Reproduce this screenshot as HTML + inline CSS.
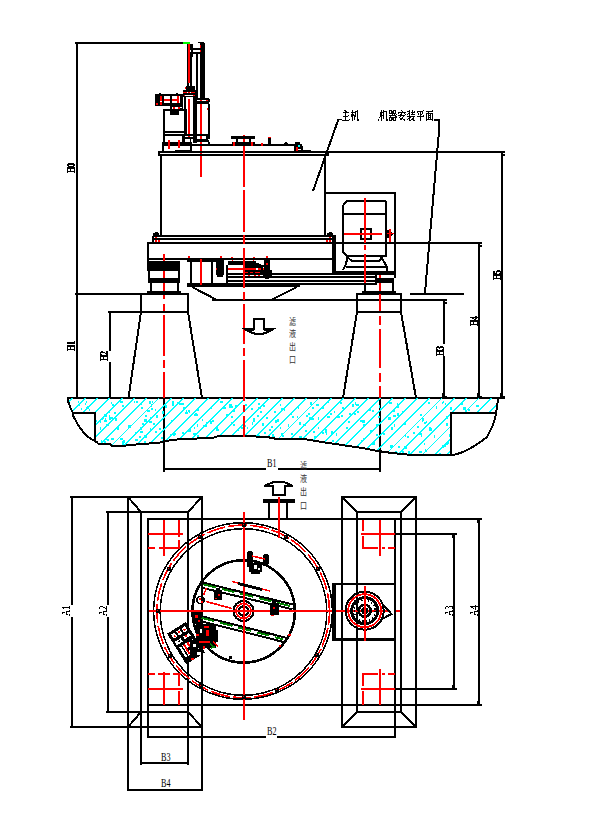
<!DOCTYPE html>
<html lang="zh"><head><meta charset="utf-8"><title>离心机安装尺寸图</title>
<style>
html,body{margin:0;padding:0;background:#fff;}
body{width:605px;height:817px;overflow:hidden;}
svg{display:block;}
text{font-family:"Liberation Serif","Noto Serif CJK SC","Noto Sans CJK SC",serif;}
text.vt{font-family:"Liberation Sans","Noto Sans CJK SC",sans-serif;stroke:none;}
text.cj{font-family:"Liberation Serif","Noto Serif CJK SC",serif;}
</style></head><body>
<svg width="605" height="817" viewBox="0 0 605 817" shape-rendering="crispEdges">
<defs><filter id="al" x="-0.3" y="-0.3" width="1.6" height="1.6" color-interpolation-filters="sRGB"><feComponentTransfer><feFuncA type="discrete" tableValues="0 1 1 1"/></feComponentTransfer></filter><filter id="al2" x="-0.3" y="-0.3" width="1.6" height="1.6" color-interpolation-filters="sRGB"><feComponentTransfer><feFuncA type="discrete" tableValues="0 1"/></feComponentTransfer></filter></defs>
<rect x="0" y="0" width="605" height="817" fill="#fff"/>
<rect x="75" y="42" width="108" height="2" fill="#000"/>
<rect x="183" y="42" width="7" height="2" fill="#0f0"/>
<rect x="76" y="42" width="2" height="356" fill="#000"/>
<rect x="67" y="397" width="438" height="2" fill="#000"/>
<rect x="75" y="293" width="114" height="2" fill="#000"/>
<rect x="108" y="311" width="81" height="2" fill="#000"/>
<rect x="109" y="311" width="2" height="40" fill="#000"/>
<rect x="109" y="362" width="2" height="36" fill="#000"/>
<rect x="140" y="293" width="2" height="19" fill="#000"/>
<rect x="187" y="293" width="2" height="19" fill="#000"/>
<line x1="141" y1="312" x2="128.5" y2="398" stroke="#000" stroke-width="2" />
<line x1="188" y1="312" x2="202" y2="398" stroke="#000" stroke-width="2" />
<rect x="356" y="293" width="46" height="2" fill="#000"/>
<rect x="356" y="311" width="46" height="2" fill="#000"/>
<rect x="356" y="293" width="2" height="19" fill="#000"/>
<rect x="400" y="293" width="2" height="19" fill="#000"/>
<line x1="357" y1="312" x2="343" y2="398" stroke="#000" stroke-width="2" />
<line x1="401" y1="312" x2="416" y2="398" stroke="#000" stroke-width="2" />
<rect x="212" y="299" width="235" height="2" fill="#000"/>
<rect x="443" y="299" width="2" height="45" fill="#000"/>
<rect x="443" y="356" width="2" height="42" fill="#000"/>
<rect x="410" y="293" width="54" height="2" fill="#000"/>
<rect x="147" y="242" width="335" height="2" fill="#000"/>
<rect x="478" y="242" width="2" height="156" fill="#000"/>
<rect x="158" y="151" width="347" height="2" fill="#000"/>
<rect x="501" y="151" width="2" height="247" fill="#000"/>
<rect x="445" y="300" width="2" height="1" fill="#000"/>
<rect x="444" y="302" width="3" height="2" fill="#000"/>
<rect x="480" y="243" width="2" height="1" fill="#000"/>
<rect x="479" y="245" width="3" height="2" fill="#000"/>
<rect x="503" y="152" width="2" height="1" fill="#000"/>
<rect x="502" y="154" width="3" height="2" fill="#000"/>
<rect x="442" y="393" width="2" height="4" fill="#000"/>
<rect x="445" y="396" width="2" height="2" fill="#000"/>
<rect x="477" y="393" width="2" height="4" fill="#000"/>
<rect x="480" y="396" width="2" height="2" fill="#000"/>
<rect x="500" y="393" width="2" height="4" fill="#000"/>
<rect x="503" y="396" width="2" height="2" fill="#000"/>
<rect x="163" y="398" width="2" height="74" fill="#000"/>
<rect x="379" y="398" width="2" height="74" fill="#000"/>
<rect x="163" y="468" width="103" height="2" fill="#000"/>
<rect x="278" y="468" width="103" height="2" fill="#000"/>
<line x1="338.5" y1="119" x2="313" y2="191" stroke="#000" stroke-width="2" />
<rect x="338" y="119" width="4" height="1" fill="#000"/>
<path d="M434,120 L439,120 L439,131 L425,293" stroke="#000" stroke-width="2" fill="none" />
<clipPath id="cc"><path d="M68,398 L69,405 L72,412 L96,412 L96,443 L98,443.5 L110,444 L112,446 L120,446 L132,445 L140,444 L158,443 L165,441 L181,439 L213,438 L218,436 L244,436 L267,437 L275,438.6 L302,438.6 L322,442 L342,445 L362,448 L378,451 L392,453 L408,454.6 L423,455.4 L451,455.4 L451,412 L496,412 L497,408 L498,398 Z"/></clipPath>
<g clip-path="url(#cc)">
<line x1="50.3" y1="396" x2="-13.7" y2="460" stroke="#0ff" stroke-width="1.35"/>
<line x1="62.6" y1="396" x2="-1.4" y2="460" stroke="#0ff" stroke-width="1.35"/>
<line x1="74.9" y1="396" x2="10.9" y2="460" stroke="#0ff" stroke-width="1.35"/>
<line x1="87.2" y1="396" x2="23.2" y2="460" stroke="#0ff" stroke-width="1.35"/>
<line x1="99.5" y1="396" x2="35.5" y2="460" stroke="#0ff" stroke-width="1.35"/>
<line x1="111.8" y1="396" x2="47.8" y2="460" stroke="#0ff" stroke-width="1.35"/>
<line x1="124.1" y1="396" x2="60.1" y2="460" stroke="#0ff" stroke-width="1.35"/>
<line x1="136.4" y1="396" x2="72.4" y2="460" stroke="#0ff" stroke-width="1.35"/>
<line x1="148.7" y1="396" x2="84.7" y2="460" stroke="#0ff" stroke-width="1.35"/>
<line x1="161.0" y1="396" x2="97.0" y2="460" stroke="#0ff" stroke-width="1.35"/>
<line x1="173.3" y1="396" x2="109.3" y2="460" stroke="#0ff" stroke-width="1.35"/>
<line x1="185.6" y1="396" x2="121.6" y2="460" stroke="#0ff" stroke-width="1.35"/>
<line x1="197.9" y1="396" x2="133.9" y2="460" stroke="#0ff" stroke-width="1.35"/>
<line x1="210.2" y1="396" x2="146.2" y2="460" stroke="#0ff" stroke-width="1.35"/>
<line x1="222.6" y1="396" x2="158.6" y2="460" stroke="#0ff" stroke-width="1.35"/>
<line x1="234.9" y1="396" x2="170.9" y2="460" stroke="#0ff" stroke-width="1.35"/>
<line x1="247.2" y1="396" x2="183.2" y2="460" stroke="#0ff" stroke-width="1.35"/>
<line x1="259.5" y1="396" x2="195.5" y2="460" stroke="#0ff" stroke-width="1.35"/>
<line x1="271.8" y1="396" x2="207.8" y2="460" stroke="#0ff" stroke-width="1.35"/>
<line x1="284.1" y1="396" x2="220.1" y2="460" stroke="#0ff" stroke-width="1.35"/>
<line x1="296.4" y1="396" x2="232.4" y2="460" stroke="#0ff" stroke-width="1.35"/>
<line x1="308.7" y1="396" x2="244.7" y2="460" stroke="#0ff" stroke-width="1.35"/>
<line x1="321.0" y1="396" x2="257.0" y2="460" stroke="#0ff" stroke-width="1.35"/>
<line x1="333.3" y1="396" x2="269.3" y2="460" stroke="#0ff" stroke-width="1.35"/>
<line x1="345.6" y1="396" x2="281.6" y2="460" stroke="#0ff" stroke-width="1.35"/>
<line x1="357.9" y1="396" x2="293.9" y2="460" stroke="#0ff" stroke-width="1.35"/>
<line x1="370.2" y1="396" x2="306.2" y2="460" stroke="#0ff" stroke-width="1.35"/>
<line x1="382.5" y1="396" x2="318.5" y2="460" stroke="#0ff" stroke-width="1.35"/>
<line x1="394.8" y1="396" x2="330.8" y2="460" stroke="#0ff" stroke-width="1.35"/>
<line x1="407.1" y1="396" x2="343.1" y2="460" stroke="#0ff" stroke-width="1.35"/>
<line x1="419.4" y1="396" x2="355.4" y2="460" stroke="#0ff" stroke-width="1.35"/>
<line x1="431.7" y1="396" x2="367.7" y2="460" stroke="#0ff" stroke-width="1.35"/>
<line x1="444.0" y1="396" x2="380.0" y2="460" stroke="#0ff" stroke-width="1.35"/>
<line x1="456.3" y1="396" x2="392.3" y2="460" stroke="#0ff" stroke-width="1.35"/>
<line x1="468.7" y1="396" x2="404.7" y2="460" stroke="#0ff" stroke-width="1.35"/>
<line x1="481.0" y1="396" x2="417.0" y2="460" stroke="#0ff" stroke-width="1.35"/>
<line x1="493.3" y1="396" x2="429.3" y2="460" stroke="#0ff" stroke-width="1.35"/>
<line x1="505.6" y1="396" x2="441.6" y2="460" stroke="#0ff" stroke-width="1.35"/>
<line x1="517.9" y1="396" x2="453.9" y2="460" stroke="#0ff" stroke-width="1.35"/>
<rect x="233" y="410" width="2" height="2" fill="#0ff"/>
<rect x="105" y="453" width="3" height="2" fill="#0ff"/>
<rect x="255" y="438" width="1" height="2" fill="#0ff"/>
<rect x="87" y="406" width="2" height="3" fill="#0ff"/>
<rect x="103" y="416" width="1" height="3" fill="#0ff"/>
<rect x="98" y="453" width="3" height="2" fill="#0ff"/>
<rect x="182" y="441" width="3" height="2" fill="#0ff"/>
<rect x="363" y="438" width="2" height="2" fill="#0ff"/>
<rect x="181" y="403" width="3" height="2" fill="#0ff"/>
<rect x="216" y="427" width="2" height="2" fill="#0ff"/>
<rect x="360" y="420" width="3" height="2" fill="#0ff"/>
<rect x="120" y="438" width="3" height="2" fill="#0ff"/>
<rect x="258" y="407" width="3" height="2" fill="#0ff"/>
<rect x="356" y="404" width="3" height="2" fill="#0ff"/>
<rect x="322" y="444" width="3" height="3" fill="#0ff"/>
<rect x="465" y="421" width="2" height="3" fill="#0ff"/>
<rect x="253" y="420" width="2" height="2" fill="#0ff"/>
<rect x="425" y="450" width="2" height="2" fill="#0ff"/>
<rect x="362" y="420" width="3" height="3" fill="#0ff"/>
<rect x="243" y="447" width="2" height="2" fill="#0ff"/>
<rect x="379" y="405" width="1" height="3" fill="#0ff"/>
<rect x="152" y="449" width="2" height="2" fill="#0ff"/>
<rect x="318" y="427" width="1" height="2" fill="#0ff"/>
<rect x="459" y="436" width="3" height="2" fill="#0ff"/>
<rect x="242" y="445" width="2" height="3" fill="#0ff"/>
<rect x="364" y="452" width="2" height="2" fill="#0ff"/>
<rect x="498" y="406" width="2" height="3" fill="#0ff"/>
<rect x="424" y="443" width="1" height="2" fill="#0ff"/>
<rect x="442" y="445" width="2" height="3" fill="#0ff"/>
<rect x="213" y="446" width="2" height="2" fill="#0ff"/>
<rect x="79" y="430" width="2" height="2" fill="#0ff"/>
<rect x="380" y="408" width="2" height="2" fill="#0ff"/>
<rect x="179" y="450" width="2" height="2" fill="#0ff"/>
<rect x="446" y="416" width="2" height="3" fill="#0ff"/>
<rect x="322" y="406" width="2" height="3" fill="#0ff"/>
<rect x="273" y="436" width="2" height="2" fill="#0ff"/>
<rect x="487" y="428" width="3" height="2" fill="#0ff"/>
<rect x="429" y="427" width="2" height="3" fill="#0ff"/>
<rect x="186" y="410" width="1" height="2" fill="#0ff"/>
<rect x="145" y="415" width="2" height="2" fill="#0ff"/>
<rect x="316" y="454" width="3" height="2" fill="#0ff"/>
<rect x="202" y="419" width="1" height="2" fill="#0ff"/>
<rect x="282" y="435" width="2" height="2" fill="#0ff"/>
<rect x="132" y="445" width="3" height="2" fill="#0ff"/>
<rect x="301" y="450" width="3" height="3" fill="#0ff"/>
<rect x="271" y="426" width="2" height="2" fill="#0ff"/>
<rect x="314" y="441" width="2" height="2" fill="#0ff"/>
<rect x="165" y="405" width="2" height="3" fill="#0ff"/>
<rect x="151" y="408" width="2" height="2" fill="#0ff"/>
<rect x="120" y="401" width="3" height="2" fill="#0ff"/>
<rect x="342" y="407" width="2" height="2" fill="#0ff"/>
<rect x="104" y="414" width="3" height="3" fill="#0ff"/>
<rect x="144" y="441" width="2" height="2" fill="#0ff"/>
<rect x="376" y="424" width="2" height="2" fill="#0ff"/>
<rect x="127" y="455" width="2" height="3" fill="#0ff"/>
<rect x="313" y="431" width="2" height="2" fill="#0ff"/>
<rect x="141" y="407" width="2" height="2" fill="#0ff"/>
<rect x="313" y="454" width="2" height="2" fill="#0ff"/>
<rect x="173" y="434" width="2" height="2" fill="#0ff"/>
<rect x="421" y="435" width="1" height="2" fill="#0ff"/>
<rect x="397" y="406" width="2" height="2" fill="#0ff"/>
<rect x="153" y="423" width="2" height="2" fill="#0ff"/>
<rect x="393" y="415" width="3" height="2" fill="#0ff"/>
<rect x="480" y="416" width="2" height="2" fill="#0ff"/>
<rect x="170" y="434" width="2" height="2" fill="#0ff"/>
<rect x="442" y="402" width="1" height="2" fill="#0ff"/>
<rect x="309" y="417" width="2" height="2" fill="#0ff"/>
<rect x="296" y="452" width="2" height="2" fill="#0ff"/>
<rect x="109" y="415" width="1" height="2" fill="#0ff"/>
<rect x="308" y="413" width="2" height="2" fill="#0ff"/>
<rect x="315" y="440" width="3" height="2" fill="#0ff"/>
<rect x="313" y="442" width="2" height="2" fill="#0ff"/>
<rect x="495" y="443" width="1" height="3" fill="#0ff"/>
<rect x="468" y="446" width="2" height="3" fill="#0ff"/>
<rect x="159" y="428" width="2" height="2" fill="#0ff"/>
<rect x="478" y="447" width="2" height="3" fill="#0ff"/>
<rect x="273" y="448" width="1" height="2" fill="#0ff"/>
<rect x="155" y="409" width="1" height="2" fill="#0ff"/>
<rect x="370" y="430" width="2" height="3" fill="#0ff"/>
<rect x="404" y="423" width="2" height="2" fill="#0ff"/>
<rect x="78" y="401" width="1" height="2" fill="#0ff"/>
<rect x="290" y="413" width="2" height="2" fill="#0ff"/>
<rect x="196" y="414" width="2" height="2" fill="#0ff"/>
<rect x="459" y="438" width="2" height="2" fill="#0ff"/>
<rect x="346" y="427" width="2" height="2" fill="#0ff"/>
<rect x="446" y="423" width="2" height="3" fill="#0ff"/>
<rect x="491" y="433" width="2" height="2" fill="#0ff"/>
<rect x="336" y="433" width="1" height="3" fill="#0ff"/>
<rect x="465" y="412" width="3" height="2" fill="#0ff"/>
<rect x="465" y="452" width="2" height="2" fill="#0ff"/>
<rect x="140" y="431" width="3" height="2" fill="#0ff"/>
<rect x="352" y="404" width="2" height="3" fill="#0ff"/>
<rect x="469" y="450" width="1" height="2" fill="#0ff"/>
<rect x="195" y="413" width="2" height="2" fill="#0ff"/>
<rect x="463" y="407" width="3" height="3" fill="#0ff"/>
<rect x="355" y="402" width="1" height="3" fill="#0ff"/>
<rect x="234" y="440" width="3" height="2" fill="#0ff"/>
<rect x="422" y="418" width="2" height="3" fill="#0ff"/>
<rect x="327" y="416" width="3" height="2" fill="#0ff"/>
<rect x="354" y="413" width="2" height="2" fill="#0ff"/>
<rect x="281" y="408" width="2" height="3" fill="#0ff"/>
<rect x="229" y="405" width="2" height="3" fill="#0ff"/>
<rect x="105" y="414" width="2" height="2" fill="#0ff"/>
<rect x="465" y="410" width="2" height="2" fill="#0ff"/>
<rect x="197" y="409" width="2" height="2" fill="#0ff"/>
<rect x="450" y="407" width="2" height="3" fill="#0ff"/>
<rect x="151" y="443" width="2" height="2" fill="#0ff"/>
<rect x="429" y="428" width="3" height="3" fill="#0ff"/>
<rect x="241" y="427" width="2" height="2" fill="#0ff"/>
<rect x="231" y="406" width="2" height="2" fill="#0ff"/>
<rect x="241" y="436" width="2" height="3" fill="#0ff"/>
<rect x="428" y="402" width="2" height="2" fill="#0ff"/>
<rect x="332" y="440" width="2" height="2" fill="#0ff"/>
<rect x="125" y="451" width="2" height="2" fill="#0ff"/>
<rect x="111" y="417" width="2" height="2" fill="#0ff"/>
<rect x="466" y="412" width="2" height="2" fill="#0ff"/>
<rect x="487" y="428" width="2" height="3" fill="#0ff"/>
<rect x="144" y="435" width="3" height="3" fill="#0ff"/>
<rect x="426" y="421" width="1" height="2" fill="#0ff"/>
<rect x="97" y="452" width="2" height="3" fill="#0ff"/>
<rect x="105" y="418" width="1" height="2" fill="#0ff"/>
<rect x="478" y="417" width="1" height="2" fill="#0ff"/>
<rect x="102" y="417" width="1" height="3" fill="#0ff"/>
<rect x="73" y="422" width="3" height="3" fill="#0ff"/>
<rect x="205" y="440" width="2" height="2" fill="#0ff"/>
<rect x="337" y="446" width="2" height="2" fill="#0ff"/>
<rect x="150" y="417" width="1" height="2" fill="#0ff"/>
<rect x="171" y="420" width="2" height="2" fill="#0ff"/>
<rect x="216" y="429" width="3" height="2" fill="#0ff"/>
<rect x="206" y="423" width="1" height="2" fill="#0ff"/>
<rect x="86" y="401" width="1" height="2" fill="#0ff"/>
<rect x="331" y="431" width="2" height="3" fill="#0ff"/>
<rect x="122" y="443" width="2" height="3" fill="#0ff"/>
<rect x="347" y="454" width="2" height="2" fill="#0ff"/>
<rect x="420" y="414" width="2" height="2" fill="#0ff"/>
<rect x="169" y="454" width="2" height="3" fill="#0ff"/>
<rect x="245" y="404" width="2" height="2" fill="#0ff"/>
<rect x="104" y="441" width="2" height="3" fill="#0ff"/>
<rect x="151" y="404" width="1" height="3" fill="#0ff"/>
<rect x="327" y="443" width="2" height="2" fill="#0ff"/>
<rect x="422" y="419" width="1" height="3" fill="#0ff"/>
<rect x="162" y="411" width="2" height="3" fill="#0ff"/>
<rect x="69" y="417" width="2" height="2" fill="#0ff"/>
<rect x="348" y="421" width="2" height="2" fill="#0ff"/>
<rect x="226" y="414" width="2" height="2" fill="#0ff"/>
<rect x="68" y="422" width="2" height="2" fill="#0ff"/>
<rect x="311" y="418" width="3" height="2" fill="#0ff"/>
<rect x="195" y="433" width="1" height="2" fill="#0ff"/>
<rect x="203" y="453" width="1" height="2" fill="#0ff"/>
<rect x="272" y="438" width="1" height="3" fill="#0ff"/>
<rect x="79" y="420" width="2" height="2" fill="#0ff"/>
<rect x="111" y="438" width="3" height="2" fill="#0ff"/>
<rect x="404" y="446" width="3" height="3" fill="#0ff"/>
<rect x="459" y="421" width="2" height="2" fill="#0ff"/>
<rect x="213" y="447" width="3" height="2" fill="#0ff"/>
<rect x="90" y="453" width="3" height="3" fill="#0ff"/>
<rect x="443" y="445" width="3" height="2" fill="#0ff"/>
<rect x="336" y="449" width="3" height="2" fill="#0ff"/>
<rect x="491" y="444" width="3" height="2" fill="#0ff"/>
<rect x="111" y="402" width="1" height="2" fill="#0ff"/>
<rect x="394" y="424" width="1" height="3" fill="#0ff"/>
<rect x="495" y="429" width="3" height="2" fill="#0ff"/>
<rect x="389" y="402" width="3" height="2" fill="#0ff"/>
<rect x="318" y="417" width="1" height="3" fill="#0ff"/>
<rect x="476" y="405" width="3" height="2" fill="#0ff"/>
<rect x="405" y="434" width="1" height="3" fill="#0ff"/>
<rect x="197" y="452" width="1" height="2" fill="#0ff"/>
<rect x="188" y="447" width="2" height="2" fill="#0ff"/>
<rect x="446" y="442" width="2" height="3" fill="#0ff"/>
<rect x="263" y="405" width="2" height="2" fill="#0ff"/>
<rect x="460" y="403" width="3" height="2" fill="#0ff"/>
<rect x="107" y="439" width="2" height="2" fill="#0ff"/>
<rect x="198" y="442" width="2" height="2" fill="#0ff"/>
<rect x="74" y="431" width="1" height="3" fill="#0ff"/>
<rect x="205" y="444" width="1" height="2" fill="#0ff"/>
<rect x="413" y="432" width="2" height="2" fill="#0ff"/>
<rect x="305" y="430" width="2" height="2" fill="#0ff"/>
<rect x="349" y="413" width="2" height="2" fill="#0ff"/>
<rect x="310" y="402" width="2" height="3" fill="#0ff"/>
<rect x="107" y="453" width="3" height="3" fill="#0ff"/>
<rect x="205" y="425" width="2" height="2" fill="#0ff"/>
<rect x="106" y="438" width="1" height="2" fill="#0ff"/>
<rect x="450" y="434" width="2" height="2" fill="#0ff"/>
<rect x="135" y="439" width="3" height="2" fill="#0ff"/>
<rect x="125" y="446" width="2" height="2" fill="#0ff"/>
<rect x="322" y="432" width="2" height="2" fill="#0ff"/>
<rect x="149" y="401" width="2" height="3" fill="#0ff"/>
<rect x="275" y="420" width="2" height="3" fill="#0ff"/>
<rect x="244" y="425" width="2" height="2" fill="#0ff"/>
<rect x="498" y="422" width="1" height="2" fill="#0ff"/>
<rect x="452" y="422" width="2" height="2" fill="#0ff"/>
<rect x="168" y="446" width="1" height="2" fill="#0ff"/>
<rect x="197" y="424" width="1" height="3" fill="#0ff"/>
<rect x="267" y="438" width="1" height="2" fill="#0ff"/>
<rect x="287" y="449" width="2" height="2" fill="#0ff"/>
<rect x="211" y="407" width="1" height="2" fill="#0ff"/>
<rect x="393" y="410" width="2" height="2" fill="#0ff"/>
<rect x="291" y="433" width="2" height="2" fill="#0ff"/>
<rect x="463" y="424" width="2" height="2" fill="#0ff"/>
<rect x="483" y="449" width="2" height="2" fill="#0ff"/>
<rect x="436" y="406" width="1" height="3" fill="#0ff"/>
<rect x="298" y="440" width="2" height="2" fill="#0ff"/>
<rect x="316" y="404" width="3" height="2" fill="#0ff"/>
<rect x="155" y="431" width="2" height="2" fill="#0ff"/>
<rect x="212" y="420" width="2" height="2" fill="#0ff"/>
<rect x="275" y="442" width="2" height="2" fill="#0ff"/>
<rect x="315" y="436" width="2" height="2" fill="#0ff"/>
<rect x="153" y="442" width="2" height="2" fill="#0ff"/>
<rect x="174" y="433" width="2" height="2" fill="#0ff"/>
<rect x="299" y="422" width="2" height="3" fill="#0ff"/>
<rect x="139" y="436" width="2" height="2" fill="#0ff"/>
<rect x="114" y="412" width="2" height="2" fill="#0ff"/>
<rect x="231" y="416" width="2" height="2" fill="#0ff"/>
<rect x="482" y="437" width="2" height="2" fill="#0ff"/>
<rect x="451" y="427" width="2" height="3" fill="#0ff"/>
<rect x="449" y="434" width="2" height="3" fill="#0ff"/>
<rect x="206" y="422" width="1" height="3" fill="#0ff"/>
<rect x="210" y="437" width="2" height="2" fill="#0ff"/>
<rect x="419" y="433" width="3" height="2" fill="#0ff"/>
<rect x="115" y="418" width="2" height="3" fill="#0ff"/>
<rect x="272" y="442" width="2" height="3" fill="#0ff"/>
<rect x="227" y="455" width="1" height="2" fill="#0ff"/>
<rect x="84" y="428" width="2" height="3" fill="#0ff"/>
<rect x="68" y="405" width="2" height="3" fill="#0ff"/>
<rect x="297" y="416" width="1" height="2" fill="#0ff"/>
<rect x="147" y="410" width="3" height="2" fill="#0ff"/>
<rect x="490" y="447" width="2" height="2" fill="#0ff"/>
<rect x="350" y="450" width="1" height="2" fill="#0ff"/>
<rect x="468" y="409" width="2" height="2" fill="#0ff"/>
<rect x="398" y="446" width="2" height="2" fill="#0ff"/>
<rect x="388" y="417" width="3" height="3" fill="#0ff"/>
<rect x="425" y="449" width="1" height="2" fill="#0ff"/>
<rect x="104" y="420" width="3" height="2" fill="#0ff"/>
<rect x="266" y="417" width="2" height="2" fill="#0ff"/>
<rect x="73" y="435" width="2" height="3" fill="#0ff"/>
<rect x="210" y="421" width="2" height="3" fill="#0ff"/>
<rect x="337" y="416" width="3" height="2" fill="#0ff"/>
<rect x="82" y="427" width="2" height="2" fill="#0ff"/>
<rect x="79" y="413" width="2" height="3" fill="#0ff"/>
<rect x="109" y="417" width="2" height="3" fill="#0ff"/>
<rect x="257" y="415" width="2" height="2" fill="#0ff"/>
<rect x="424" y="422" width="2" height="2" fill="#0ff"/>
<rect x="417" y="426" width="2" height="2" fill="#0ff"/>
<rect x="476" y="419" width="3" height="2" fill="#0ff"/>
<rect x="173" y="432" width="2" height="2" fill="#0ff"/>
<rect x="460" y="453" width="2" height="2" fill="#0ff"/>
<rect x="306" y="415" width="2" height="2" fill="#0ff"/>
<rect x="123" y="440" width="2" height="2" fill="#0ff"/>
<rect x="182" y="432" width="2" height="2" fill="#0ff"/>
<rect x="372" y="410" width="2" height="2" fill="#0ff"/>
<rect x="177" y="402" width="3" height="2" fill="#0ff"/>
<rect x="280" y="404" width="1" height="2" fill="#0ff"/>
<rect x="269" y="429" width="2" height="2" fill="#0ff"/>
<rect x="108" y="411" width="2" height="2" fill="#0ff"/>
<rect x="162" y="442" width="3" height="3" fill="#0ff"/>
<rect x="84" y="420" width="2" height="2" fill="#0ff"/>
<rect x="237" y="429" width="2" height="2" fill="#0ff"/>
<rect x="69" y="406" width="2" height="2" fill="#0ff"/>
<rect x="247" y="427" width="1" height="2" fill="#0ff"/>
<rect x="262" y="423" width="2" height="3" fill="#0ff"/>
<rect x="112" y="404" width="2" height="2" fill="#0ff"/>
<rect x="258" y="435" width="2" height="2" fill="#0ff"/>
<rect x="233" y="424" width="2" height="2" fill="#0ff"/>
<rect x="391" y="427" width="2" height="3" fill="#0ff"/>
<rect x="88" y="425" width="1" height="3" fill="#0ff"/>
<rect x="100" y="452" width="1" height="2" fill="#0ff"/>
<rect x="167" y="448" width="1" height="2" fill="#0ff"/>
<rect x="253" y="418" width="2" height="2" fill="#0ff"/>
<rect x="202" y="448" width="2" height="2" fill="#0ff"/>
<rect x="220" y="401" width="3" height="2" fill="#0ff"/>
<rect x="80" y="453" width="2" height="2" fill="#0ff"/>
<rect x="311" y="446" width="2" height="3" fill="#0ff"/>
<rect x="472" y="417" width="2" height="3" fill="#0ff"/>
<rect x="135" y="432" width="2" height="2" fill="#0ff"/>
<rect x="478" y="448" width="2" height="2" fill="#0ff"/>
<rect x="378" y="416" width="2" height="2" fill="#0ff"/>
<rect x="303" y="424" width="3" height="2" fill="#0ff"/>
<rect x="330" y="413" width="2" height="2" fill="#0ff"/>
<rect x="194" y="427" width="1" height="2" fill="#0ff"/>
<rect x="314" y="436" width="3" height="2" fill="#0ff"/>
<rect x="150" y="428" width="1" height="2" fill="#0ff"/>
<rect x="203" y="440" width="1" height="2" fill="#0ff"/>
<rect x="117" y="427" width="2" height="3" fill="#0ff"/>
<rect x="156" y="415" width="2" height="3" fill="#0ff"/>
<rect x="303" y="440" width="2" height="2" fill="#0ff"/>
<rect x="467" y="454" width="2" height="2" fill="#0ff"/>
<rect x="211" y="437" width="2" height="2" fill="#0ff"/>
<rect x="198" y="448" width="2" height="2" fill="#0ff"/>
<rect x="292" y="416" width="2" height="2" fill="#0ff"/>
<rect x="188" y="410" width="2" height="2" fill="#0ff"/>
<rect x="235" y="405" width="2" height="2" fill="#0ff"/>
<rect x="193" y="433" width="3" height="2" fill="#0ff"/>
<rect x="400" y="452" width="1" height="3" fill="#0ff"/>
<rect x="86" y="407" width="1" height="3" fill="#0ff"/>
<rect x="487" y="415" width="2" height="2" fill="#0ff"/>
<rect x="88" y="419" width="2" height="2" fill="#0ff"/>
<rect x="93" y="413" width="3" height="2" fill="#0ff"/>
<rect x="106" y="424" width="3" height="2" fill="#0ff"/>
<rect x="297" y="439" width="2" height="2" fill="#0ff"/>
<rect x="122" y="441" width="3" height="2" fill="#0ff"/>
<rect x="179" y="403" width="2" height="2" fill="#0ff"/>
<rect x="140" y="403" width="2" height="2" fill="#0ff"/>
<rect x="87" y="439" width="2" height="2" fill="#0ff"/>
<rect x="487" y="421" width="2" height="2" fill="#0ff"/>
<rect x="162" y="440" width="2" height="2" fill="#0ff"/>
<rect x="172" y="403" width="2" height="3" fill="#0ff"/>
<rect x="100" y="427" width="1" height="3" fill="#0ff"/>
<rect x="407" y="436" width="2" height="2" fill="#0ff"/>
<rect x="402" y="411" width="2" height="2" fill="#0ff"/>
<rect x="277" y="419" width="2" height="3" fill="#0ff"/>
<rect x="94" y="420" width="3" height="2" fill="#0ff"/>
<rect x="280" y="427" width="1" height="2" fill="#0ff"/>
<rect x="397" y="413" width="2" height="3" fill="#0ff"/>
<rect x="172" y="401" width="2" height="2" fill="#0ff"/>
<rect x="284" y="408" width="1" height="3" fill="#0ff"/>
<rect x="363" y="424" width="2" height="2" fill="#0ff"/>
<rect x="134" y="401" width="1" height="2" fill="#0ff"/>
<rect x="396" y="452" width="2" height="2" fill="#0ff"/>
<rect x="361" y="440" width="2" height="2" fill="#0ff"/>
<rect x="142" y="423" width="2" height="2" fill="#0ff"/>
<rect x="334" y="411" width="1" height="2" fill="#0ff"/>
<rect x="264" y="432" width="2" height="2" fill="#0ff"/>
<rect x="132" y="454" width="1" height="3" fill="#0ff"/>
<rect x="229" y="404" width="3" height="3" fill="#0ff"/>
<rect x="112" y="446" width="3" height="2" fill="#0ff"/>
<rect x="395" y="451" width="2" height="3" fill="#0ff"/>
<rect x="382" y="455" width="2" height="3" fill="#0ff"/>
<rect x="161" y="437" width="2" height="2" fill="#0ff"/>
<rect x="272" y="434" width="2" height="3" fill="#0ff"/>
<rect x="251" y="408" width="2" height="2" fill="#0ff"/>
<rect x="439" y="453" width="2" height="2" fill="#0ff"/>
<rect x="355" y="454" width="1" height="2" fill="#0ff"/>
<rect x="128" y="425" width="3" height="3" fill="#0ff"/>
<rect x="349" y="455" width="2" height="3" fill="#0ff"/>
<rect x="225" y="438" width="2" height="3" fill="#0ff"/>
<rect x="267" y="443" width="2" height="3" fill="#0ff"/>
<rect x="325" y="429" width="2" height="2" fill="#0ff"/>
<rect x="69" y="440" width="2" height="3" fill="#0ff"/>
<rect x="188" y="429" width="3" height="3" fill="#0ff"/>
<rect x="496" y="412" width="2" height="3" fill="#0ff"/>
<rect x="122" y="405" width="2" height="2" fill="#0ff"/>
<rect x="288" y="424" width="1" height="3" fill="#0ff"/>
<rect x="326" y="433" width="1" height="2" fill="#0ff"/>
<rect x="393" y="409" width="1" height="2" fill="#0ff"/>
<rect x="466" y="447" width="3" height="2" fill="#0ff"/>
<rect x="95" y="449" width="3" height="3" fill="#0ff"/>
<rect x="402" y="451" width="2" height="2" fill="#0ff"/>
<rect x="101" y="440" width="1" height="2" fill="#0ff"/>
<rect x="135" y="432" width="2" height="2" fill="#0ff"/>
<rect x="419" y="451" width="2" height="2" fill="#0ff"/>
<rect x="494" y="423" width="3" height="2" fill="#0ff"/>
<rect x="149" y="421" width="3" height="2" fill="#0ff"/>
<rect x="485" y="430" width="2" height="2" fill="#0ff"/>
<rect x="325" y="431" width="2" height="2" fill="#0ff"/>
<rect x="383" y="433" width="2" height="2" fill="#0ff"/>
<rect x="258" y="403" width="2" height="2" fill="#0ff"/>
<rect x="274" y="411" width="2" height="2" fill="#0ff"/>
<rect x="260" y="411" width="2" height="2" fill="#0ff"/>
<rect x="461" y="434" width="1" height="2" fill="#0ff"/>
<rect x="299" y="436" width="3" height="2" fill="#0ff"/>
<rect x="197" y="435" width="2" height="2" fill="#0ff"/>
<rect x="203" y="425" width="2" height="2" fill="#0ff"/>
<rect x="252" y="422" width="1" height="3" fill="#0ff"/>
<rect x="185" y="412" width="3" height="2" fill="#0ff"/>
<rect x="219" y="453" width="3" height="2" fill="#0ff"/>
<rect x="226" y="441" width="3" height="2" fill="#0ff"/>
<rect x="443" y="401" width="1" height="2" fill="#0ff"/>
<rect x="144" y="419" width="3" height="3" fill="#0ff"/>
<rect x="281" y="433" width="2" height="2" fill="#0ff"/>
<rect x="135" y="432" width="2" height="2" fill="#0ff"/>
<rect x="79" y="404" width="1" height="2" fill="#0ff"/>
<rect x="223" y="407" width="3" height="2" fill="#0ff"/>
<rect x="341" y="415" width="2" height="2" fill="#0ff"/>
<rect x="369" y="409" width="2" height="2" fill="#0ff"/>
<rect x="387" y="454" width="2" height="2" fill="#0ff"/>
<rect x="136" y="401" width="2" height="2" fill="#0ff"/>
<rect x="298" y="407" width="1" height="2" fill="#0ff"/>
<rect x="408" y="451" width="2" height="3" fill="#0ff"/>
<rect x="483" y="417" width="1" height="2" fill="#0ff"/>
<rect x="398" y="453" width="3" height="2" fill="#0ff"/>
<rect x="372" y="442" width="3" height="3" fill="#0ff"/>
<rect x="376" y="434" width="2" height="2" fill="#0ff"/>
<rect x="152" y="401" width="1" height="2" fill="#0ff"/>
<rect x="340" y="402" width="2" height="2" fill="#0ff"/>
<rect x="189" y="411" width="1" height="2" fill="#0ff"/>
<rect x="74" y="440" width="3" height="2" fill="#0ff"/>
<rect x="140" y="427" width="2" height="3" fill="#0ff"/>
<rect x="484" y="440" width="2" height="2" fill="#0ff"/>
<rect x="100" y="420" width="1" height="3" fill="#0ff"/>
<rect x="434" y="435" width="1" height="3" fill="#0ff"/>
<rect x="291" y="448" width="2" height="2" fill="#0ff"/>
<rect x="447" y="442" width="2" height="2" fill="#0ff"/>
<rect x="183" y="407" width="2" height="2" fill="#0ff"/>
<rect x="397" y="403" width="1" height="2" fill="#0ff"/>
<rect x="451" y="445" width="2" height="2" fill="#0ff"/>
<rect x="204" y="441" width="3" height="3" fill="#0ff"/>
<rect x="419" y="451" width="3" height="2" fill="#0ff"/>
<rect x="219" y="442" width="2" height="2" fill="#0ff"/>
<rect x="327" y="401" width="2" height="2" fill="#0ff"/>
<rect x="188" y="454" width="2" height="2" fill="#0ff"/>
<rect x="450" y="421" width="2" height="3" fill="#0ff"/>
<rect x="236" y="439" width="2" height="3" fill="#0ff"/>
<rect x="390" y="445" width="3" height="3" fill="#0ff"/>
<rect x="309" y="454" width="3" height="2" fill="#0ff"/>
<rect x="81" y="428" width="2" height="2" fill="#0ff"/>
<rect x="472" y="414" width="2" height="2" fill="#0ff"/>
<rect x="357" y="411" width="2" height="2" fill="#0ff"/>
<rect x="81" y="408" width="1" height="2" fill="#0ff"/>
<rect x="244" y="410" width="1" height="2" fill="#0ff"/>
<rect x="89" y="409" width="1" height="2" fill="#0ff"/>
<rect x="445" y="403" width="1" height="2" fill="#0ff"/>
<rect x="170" y="453" width="3" height="2" fill="#0ff"/>
<rect x="454" y="446" width="2" height="2" fill="#0ff"/>
<rect x="194" y="414" width="2" height="2" fill="#0ff"/>
<rect x="85" y="403" width="1" height="2" fill="#0ff"/>
<rect x="312" y="407" width="2" height="2" fill="#0ff"/>
<rect x="473" y="449" width="2" height="2" fill="#0ff"/>
<rect x="231" y="422" width="2" height="2" fill="#0ff"/>
<rect x="78" y="423" width="2" height="2" fill="#0ff"/>
<rect x="92" y="446" width="2" height="2" fill="#0ff"/>
</g>
<path d="M68,398 L68,401 L69.5,405 L71,409 L72.5,412 L73,416 L75,419 L78,425 L81,429 L84,433 L87,436 L91,439 L95,441 L98,443" stroke="#000" stroke-width="2" fill="none" />
<path d="M98,443.5 L110,444 L112,446 L120,446 L132,445 L140,444 L158,443 L165,441 L181,439 L213,438 L218,436 L244,436 L267,437 L275,438.6 L302,438.6 L322,442 L342,445 L362,448 L378,451 L392,453 L408,454.6 L423,455.4 L451,455.4" stroke="#000" stroke-width="2" fill="none" />
<path d="M451,455.4 L457,454 L463,452 L471,448 L479,443 L487,437 L493,425 L495.4,417 L496,412 L497,408 L498,398" stroke="#000" stroke-width="2" fill="none" />
<rect x="72" y="412" width="24" height="2" fill="#000"/>
<rect x="94" y="412" width="2" height="30" fill="#000"/>
<rect x="450" y="412" width="46" height="2" fill="#000"/>
<rect x="450" y="412" width="2" height="44" fill="#000"/>
<rect x="160" y="155" width="2" height="81" fill="#000"/>
<rect x="324" y="155" width="2" height="81" fill="#000"/>
<rect x="158" y="154" width="171" height="2" fill="#000"/>
<rect x="158" y="151" width="2" height="5" fill="#000"/>
<rect x="327" y="151" width="2" height="5" fill="#000"/>
<rect x="153" y="235" width="181" height="2" fill="#000"/>
<rect x="153" y="238" width="181" height="2" fill="#000"/>
<rect x="153" y="233" width="6" height="2" fill="#000"/>
<rect x="155" y="232" width="3" height="1" fill="#000"/>
<rect x="152" y="236" width="2" height="6" fill="#000"/>
<rect x="327" y="233" width="6" height="2" fill="#000"/>
<rect x="329" y="232" width="3" height="1" fill="#000"/>
<rect x="155" y="240" width="2" height="2" fill="#f00"/>
<rect x="158" y="240" width="2" height="2" fill="#f00"/>
<rect x="155" y="237" width="2" height="1" fill="#f00"/>
<rect x="326" y="240" width="2" height="2" fill="#f00"/>
<rect x="329" y="240" width="2" height="2" fill="#f00"/>
<rect x="329" y="237" width="2" height="1" fill="#f00"/>
<rect x="147" y="242" width="2" height="19" fill="#000"/>
<rect x="147" y="258" width="40" height="2" fill="#000"/>
<rect x="147" y="261" width="33" height="10" fill="#000"/>
<rect x="148" y="271" width="2" height="7" fill="#000"/>
<rect x="178" y="271" width="2" height="7" fill="#000"/>
<rect x="148" y="278" width="32" height="5" fill="#000"/>
<rect x="150" y="283" width="2" height="8" fill="#000"/>
<rect x="177" y="283" width="2" height="8" fill="#000"/>
<rect x="147" y="291" width="34" height="3" fill="#000"/>
<rect x="183" y="258" width="149" height="2" fill="#000"/>
<rect x="187" y="260" width="36" height="2" fill="#000"/>
<rect x="187" y="283" width="113" height="4" fill="#000"/>
<rect x="300" y="283" width="77" height="2" fill="#000"/>
<rect x="190" y="262" width="2" height="21" fill="#000"/>
<rect x="211" y="262" width="2" height="21" fill="#000"/>
<rect x="200" y="259" width="2" height="26" fill="#f00"/>
<rect x="226" y="273" width="149" height="2" fill="#000"/>
<rect x="226" y="276" width="149" height="2" fill="#000"/>
<rect x="226" y="280" width="149" height="2" fill="#000"/>
<rect x="226" y="265" width="2" height="18" fill="#000"/>
<rect x="332" y="271" width="63" height="4" fill="#000"/>
<rect x="216" y="260" width="8" height="15" fill="#000"/>
<rect x="217" y="275" width="6" height="2" fill="#000"/>
<rect x="216" y="268" width="1" height="2" fill="#f00"/>
<rect x="228" y="261" width="17" height="4" fill="#000"/>
<rect x="245" y="261" width="19" height="7" fill="#000"/>
<rect x="232" y="260" width="11" height="1" fill="#fff"/>
<rect x="245" y="260" width="8" height="1" fill="#fff"/>
<rect x="253" y="260" width="1" height="1" fill="#f00"/>
<rect x="256" y="260" width="8" height="3" fill="#fff"/>
<rect x="259" y="263" width="5" height="1" fill="#fff"/>
<rect x="261" y="264" width="3" height="1" fill="#fff"/>
<rect x="245" y="268" width="19" height="8" fill="#000"/>
<rect x="228" y="268" width="33" height="2" fill="#f00"/>
<rect x="256" y="268" width="2" height="2" fill="#fff"/>
<rect x="263" y="267" width="1" height="4" fill="#fff"/>
<rect x="263" y="268" width="1" height="2" fill="#f00"/>
<rect x="245" y="272" width="3" height="1" fill="#f00"/>
<rect x="250" y="272" width="3" height="1" fill="#f00"/>
<rect x="255" y="272" width="5" height="1" fill="#f00"/>
<rect x="245" y="275" width="18" height="1" fill="#fff"/>
<rect x="248" y="275" width="2" height="1" fill="#f00"/>
<rect x="254" y="275" width="2" height="1" fill="#f00"/>
<rect x="258" y="275" width="2" height="1" fill="#f00"/>
<rect x="264" y="260" width="6" height="18" fill="#000"/>
<rect x="263" y="270" width="9" height="7" fill="#000"/>
<rect x="265" y="278" width="4" height="1" fill="#000"/>
<rect x="266" y="263" width="2" height="2" fill="#f00"/>
<rect x="220" y="256" width="2" height="2" fill="#f00"/>
<rect x="266" y="256" width="2" height="2" fill="#f00"/>
<rect x="231" y="257" width="2" height="1" fill="#f00"/>
<rect x="253" y="257" width="2" height="1" fill="#f00"/>
<rect x="232" y="260" width="1" height="1" fill="#f00"/>
<rect x="188" y="256" width="2" height="2" fill="#f00"/>
<line x1="192" y1="287" x2="217" y2="300" stroke="#000" stroke-width="2" />
<line x1="297" y1="287" x2="271" y2="300" stroke="#000" stroke-width="2" />
<rect x="332" y="235" width="4" height="38" fill="#000"/>
<rect x="325" y="192" width="71" height="2" fill="#000"/>
<rect x="394" y="192" width="2" height="86" fill="#000"/>
<rect x="324" y="192" width="2" height="44" fill="#000"/>
<path d="M343,252 L343,205.5 L347,201 L385,201 L386,202 L386,256" stroke="#000" stroke-width="2" fill="none" />
<rect x="343" y="213" width="44" height="2" fill="#000"/>
<rect x="346" y="255" width="41" height="2" fill="#000"/>
<path d="M343,252 L346.5,256 L347,260 L345.5,265 L343,270" stroke="#000" stroke-width="2" fill="none" />
<path d="M347,257 L352,261 L379,261 L382,257" stroke="#000" stroke-width="2" fill="none" />
<path d="M381,257 L386.5,266 L386.5,271" stroke="#000" stroke-width="2" fill="none" />
<rect x="346" y="266" width="40" height="2" fill="#000"/>
<rect x="361" y="229" width="10" height="10" fill="none" stroke="#000" stroke-width="2"/>
<rect x="344" y="233" width="38" height="2" fill="#f00"/>
<path d="M387,230 L393,234 L387,238 Z" stroke="#000" stroke-width="1" fill="#000" />
<rect x="389" y="229" width="2" height="13" fill="#f00"/>
<rect x="387" y="233" width="7" height="1" fill="#f00"/>
<rect x="376" y="278" width="18" height="5" fill="#000"/>
<rect x="375" y="275" width="2" height="9" fill="#000"/>
<rect x="392" y="283" width="2" height="9" fill="#000"/>
<rect x="364" y="285" width="2" height="7" fill="#000"/>
<rect x="362" y="291" width="34" height="3" fill="#000"/>
<rect x="243" y="135" width="2" height="52" fill="#f00"/>
<rect x="243" y="190" width="2" height="42" fill="#f00"/>
<rect x="243" y="235" width="2" height="9" fill="#f00"/>
<rect x="243" y="248" width="2" height="40" fill="#f00"/>
<rect x="243" y="292" width="2" height="8" fill="#f00"/>
<rect x="243" y="304" width="2" height="40" fill="#f00"/>
<rect x="243" y="348" width="2" height="8" fill="#f00"/>
<rect x="243" y="360" width="2" height="41" fill="#f00"/>
<rect x="243" y="405" width="2" height="7" fill="#f00"/>
<rect x="243" y="416" width="2" height="21" fill="#f00"/>
<rect x="364" y="198" width="2" height="45" fill="#f00"/>
<rect x="364" y="245" width="2" height="5" fill="#f00"/>
<rect x="364" y="254" width="2" height="29" fill="#f00"/>
<rect x="163" y="254" width="2" height="45" fill="#f00"/>
<rect x="163" y="304" width="2" height="7" fill="#f00"/>
<rect x="163" y="315" width="2" height="41" fill="#f00"/>
<rect x="163" y="360" width="2" height="8" fill="#f00"/>
<rect x="163" y="372" width="2" height="26" fill="#f00"/>
<rect x="147" y="261" width="33" height="10" fill="#000"/>
<rect x="148" y="278" width="32" height="5" fill="#000"/>
<rect x="147" y="291" width="34" height="3" fill="#000"/>
<rect x="140" y="293" width="49" height="2" fill="#000"/>
<rect x="379" y="283" width="2" height="8" fill="#f00"/>
<rect x="379" y="275" width="2" height="3" fill="#f00"/>
<rect x="379" y="294" width="2" height="17" fill="#f00"/>
<rect x="379" y="316" width="2" height="9" fill="#f00"/>
<rect x="379" y="329" width="2" height="39" fill="#f00"/>
<rect x="379" y="373" width="2" height="9" fill="#f00"/>
<rect x="379" y="386" width="2" height="12" fill="#f00"/>
<rect x="185" y="144" width="109" height="2" fill="#000"/>
<rect x="162" y="142" width="30" height="4" fill="#000"/>
<rect x="162" y="142" width="2" height="10" fill="#000"/>
<rect x="190" y="142" width="2" height="10" fill="#000"/>
<rect x="175" y="150" width="15" height="1" fill="#000"/>
<rect x="168" y="140" width="2" height="9" fill="#f00"/>
<rect x="178" y="140" width="2" height="8" fill="#f00"/>
<rect x="163" y="109" width="24" height="2" fill="#000"/>
<rect x="163" y="109" width="2" height="34" fill="#000"/>
<rect x="185" y="109" width="2" height="27" fill="#000"/>
<rect x="163" y="131" width="24" height="2" fill="#000"/>
<rect x="163" y="134" width="24" height="2" fill="#000"/>
<rect x="182" y="136" width="3" height="6" fill="#000"/>
<rect x="170" y="111" width="9" height="4" fill="#000"/>
<rect x="155" y="94" width="28" height="12" fill="#000"/>
<rect x="159" y="93" width="2" height="1" fill="#000"/>
<rect x="176" y="93" width="2" height="1" fill="#000"/>
<rect x="164" y="96" width="6" height="7" fill="#fff"/>
<rect x="172" y="96" width="8" height="7" fill="#fff"/>
<rect x="164" y="99" width="15" height="2" fill="#f00"/>
<rect x="170" y="94" width="2" height="12" fill="#000"/>
<rect x="177" y="96" width="2" height="7" fill="#f00"/>
<rect x="160" y="96" width="2" height="9" fill="#f00"/>
<rect x="160" y="101" width="2" height="1" fill="#fff"/>
<rect x="156" y="103" width="2" height="2" fill="#f00"/>
<rect x="180" y="94" width="3" height="15" fill="#000"/>
<rect x="170" y="106" width="13" height="3" fill="#000"/>
<rect x="172" y="107" width="1" height="2" fill="#fff"/>
<rect x="173" y="107" width="2" height="2" fill="#f00"/>
<rect x="175" y="107" width="3" height="2" fill="#fff"/>
<rect x="178" y="107" width="2" height="2" fill="#f00"/>
<rect x="180" y="107" width="2" height="1" fill="#fff"/>
<rect x="187" y="44" width="6" height="42" fill="#000"/>
<rect x="188" y="44" width="2" height="39" fill="#f00"/>
<rect x="189" y="83" width="1" height="3" fill="#fff"/>
<rect x="192" y="57" width="1" height="29" fill="#fff"/>
<rect x="186" y="86" width="9" height="4" fill="#000"/>
<rect x="183" y="90" width="13" height="7" fill="#000"/>
<rect x="185" y="87" width="1" height="2" fill="#f00"/>
<rect x="183" y="92" width="12" height="1" fill="#f00"/>
<rect x="187" y="92" width="1" height="1" fill="#fff"/>
<rect x="190" y="92" width="1" height="1" fill="#fff"/>
<rect x="185" y="95" width="8" height="1" fill="#fff"/>
<rect x="184" y="95" width="1" height="1" fill="#f00"/>
<rect x="193" y="95" width="2" height="1" fill="#f00"/>
<rect x="184" y="97" width="2" height="38" fill="#000"/>
<rect x="193" y="97" width="4" height="46" fill="#000"/>
<rect x="188" y="99" width="2" height="39" fill="#f00"/>
<rect x="184" y="134" width="12" height="2" fill="#000"/>
<rect x="183" y="137" width="12" height="2" fill="#000"/>
<rect x="184" y="139" width="1" height="3" fill="#000"/>
<rect x="190" y="139" width="1" height="4" fill="#000"/>
<rect x="192" y="48" width="8" height="2" fill="#000"/>
<rect x="192" y="52" width="8" height="2" fill="#000"/>
<rect x="190" y="50" width="1" height="2" fill="#fff"/>
<rect x="200" y="43" width="5" height="56" fill="#000"/>
<rect x="198" y="42" width="6" height="1" fill="#000"/>
<rect x="196" y="54" width="2" height="45" fill="#000"/>
<rect x="200" y="45" width="1" height="3" fill="#f00"/>
<rect x="200" y="50" width="1" height="2" fill="#f00"/>
<rect x="196" y="98" width="13" height="2" fill="#000"/>
<rect x="208" y="99" width="2" height="3" fill="#000"/>
<rect x="195" y="101" width="14" height="3" fill="#000"/>
<rect x="206" y="100" width="2" height="1" fill="#f00"/>
<rect x="195" y="104" width="2" height="31" fill="#000"/>
<rect x="208" y="104" width="2" height="31" fill="#000"/>
<rect x="207" y="108" width="1" height="2" fill="#f00"/>
<rect x="195" y="134" width="15" height="2" fill="#000"/>
<rect x="206" y="136" width="4" height="3" fill="#000"/>
<rect x="195" y="139" width="13" height="1" fill="#000"/>
<rect x="194" y="140" width="15" height="2" fill="#000"/>
<rect x="208" y="142" width="2" height="2" fill="#000"/>
<rect x="195" y="136" width="2" height="3" fill="#000"/>
<rect x="200" y="100" width="2" height="77" fill="#f00"/>
<rect x="200" y="101" width="2" height="3" fill="#000"/>
<rect x="200" y="134" width="2" height="2" fill="#000"/>
<rect x="200" y="139" width="2" height="3" fill="#000"/>
<rect x="200" y="144" width="2" height="2" fill="#000"/>
<rect x="200" y="151" width="2" height="2" fill="#000"/>
<rect x="200" y="154" width="2" height="2" fill="#000"/>
<rect x="231" y="136" width="24" height="3" fill="#000"/>
<rect x="236" y="139" width="2" height="4" fill="#000"/>
<rect x="249" y="139" width="2" height="4" fill="#000"/>
<rect x="232" y="142" width="23" height="3" fill="#000"/>
<rect x="233" y="142" width="2" height="4" fill="#f00"/>
<rect x="251" y="142" width="2" height="4" fill="#f00"/>
<rect x="261" y="143" width="2" height="3" fill="#f00"/>
<rect x="268" y="138" width="3" height="7" fill="#000"/>
<rect x="268" y="137" width="3" height="1" fill="#f00"/>
<path d="M283,145 L286,142 L289,145 Z" stroke="#000" stroke-width="1" fill="#000" />
<rect x="294" y="144" width="8" height="8" fill="#000"/>
<rect x="295" y="142" width="5" height="2" fill="#000"/>
<rect x="301" y="146" width="2" height="6" fill="#000"/>
<rect x="298" y="145" width="2" height="2" fill="#0ff"/>
<rect x="296" y="147" width="2" height="4" fill="#f00"/>
<rect x="298" y="149" width="3" height="1" fill="#fff"/>
<rect x="302" y="150" width="9" height="1" fill="#000"/>
<rect x="70" y="496" width="133" height="2" fill="#000"/>
<rect x="70" y="726" width="133" height="2" fill="#000"/>
<rect x="71" y="496" width="2" height="109" fill="#000"/>
<rect x="71" y="617" width="2" height="111" fill="#000"/>
<rect x="106" y="511" width="83" height="2" fill="#000"/>
<rect x="106" y="711" width="83" height="2" fill="#000"/>
<rect x="107" y="511" width="2" height="94" fill="#000"/>
<rect x="107" y="617" width="2" height="96" fill="#000"/>
<rect x="127" y="496" width="2" height="295" fill="#000"/>
<rect x="201" y="496" width="2" height="295" fill="#000"/>
<rect x="140" y="511" width="2" height="254" fill="#000"/>
<rect x="187" y="511" width="2" height="254" fill="#000"/>
<line x1="128" y1="497" x2="141" y2="512" stroke="#000" stroke-width="2" />
<line x1="202" y1="497" x2="188" y2="512" stroke="#000" stroke-width="2" />
<line x1="128" y1="727" x2="141" y2="712" stroke="#000" stroke-width="2" />
<line x1="202" y1="727" x2="188" y2="712" stroke="#000" stroke-width="2" />
<rect x="341" y="496" width="76" height="2" fill="#000"/>
<rect x="341" y="726" width="76" height="2" fill="#000"/>
<rect x="341" y="496" width="2" height="232" fill="#000"/>
<rect x="415" y="496" width="2" height="232" fill="#000"/>
<rect x="356" y="511" width="46" height="2" fill="#000"/>
<rect x="356" y="711" width="46" height="2" fill="#000"/>
<rect x="356" y="511" width="2" height="202" fill="#000"/>
<rect x="400" y="511" width="2" height="202" fill="#000"/>
<line x1="342" y1="497" x2="357" y2="512" stroke="#000" stroke-width="2" />
<line x1="416" y1="497" x2="401" y2="512" stroke="#000" stroke-width="2" />
<line x1="342" y1="727" x2="357" y2="712" stroke="#000" stroke-width="2" />
<line x1="416" y1="727" x2="401" y2="712" stroke="#000" stroke-width="2" />
<rect x="147" y="518" width="335" height="2" fill="#000"/>
<rect x="147" y="704" width="335" height="2" fill="#000"/>
<rect x="147" y="518" width="2" height="220" fill="#000"/>
<rect x="394" y="518" width="2" height="220" fill="#000"/>
<rect x="478" y="518" width="2" height="188" fill="#000"/>
<rect x="453" y="533" width="2" height="157" fill="#000"/>
<rect x="395" y="533" width="62" height="2" fill="#000"/>
<rect x="395" y="688" width="62" height="2" fill="#000"/>
<rect x="452" y="535" width="2" height="3" fill="#000"/>
<rect x="455" y="533" width="2" height="2" fill="#000"/>
<rect x="477" y="520" width="2" height="3" fill="#000"/>
<rect x="480" y="518" width="2" height="2" fill="#000"/>
<rect x="452" y="685" width="2" height="3" fill="#000"/>
<rect x="455" y="688" width="2" height="2" fill="#000"/>
<rect x="477" y="701" width="2" height="3" fill="#000"/>
<rect x="480" y="704" width="2" height="2" fill="#000"/>
<rect x="147" y="736" width="119" height="2" fill="#000"/>
<rect x="277" y="736" width="119" height="2" fill="#000"/>
<rect x="140" y="762" width="49" height="2" fill="#000"/>
<rect x="127" y="789" width="76" height="2" fill="#000"/>
<ellipse cx="243" cy="611" rx="89.4" ry="88.3" stroke="#000" stroke-width="1.5" fill="none"/>
<circle cx="243.5" cy="612" r="83.3" stroke="#000" stroke-width="1.5" fill="none" />
<circle cx="243.2" cy="611.4" r="86.3" stroke="#f00" stroke-width="1.6" fill="none" stroke-dasharray="19 3" stroke-dashoffset="5"/>
<circle cx="243.7" cy="611.4" r="51.2" stroke="#000" stroke-width="2.6" fill="none" />
<line x1="200.5" y1="582" x2="293" y2="604.5" stroke="#000" stroke-width="2" />
<line x1="203.5" y1="584.3" x2="290" y2="606.1" stroke="#008000" stroke-width="2" stroke-dasharray="13 6"/>
<line x1="203" y1="588" x2="292.5" y2="609.3" stroke="#000" stroke-width="2" />
<line x1="198.5" y1="615.5" x2="286" y2="637.7" stroke="#000" stroke-width="2" />
<line x1="201.5" y1="617.8" x2="283" y2="639.3000000000001" stroke="#008000" stroke-width="2" stroke-dasharray="13 6"/>
<line x1="202" y1="621.5" x2="283.6" y2="642" stroke="#000" stroke-width="2" />
<circle cx="243.5" cy="611" r="10" stroke="#000" stroke-width="2" fill="none" />
<circle cx="243.5" cy="611" r="7.5" stroke="#f00" stroke-width="1.6" fill="none" />
<circle cx="243.5" cy="611" r="4.7" stroke="#000" stroke-width="2.2" fill="none" />
<rect x="149" y="610" width="241" height="2" fill="#f00"/>
<rect x="396" y="610" width="4" height="2" fill="#f00"/>
<rect x="243" y="512" width="2" height="208" fill="#f00"/>
<circle cx="200.5" cy="600" r="3.6" stroke="#000" stroke-width="1.6" fill="none" />
<rect x="199" y="598" width="2" height="2" fill="#f00"/>
<rect x="201" y="601" width="2" height="2" fill="#f00"/>
<line x1="206" y1="601.5" x2="232" y2="608.5" stroke="#f00" stroke-width="1.6" />
<line x1="206.5" y1="588" x2="203.5" y2="595" stroke="#f00" stroke-width="1.6" />
<rect x="214" y="590" width="8" height="10" fill="#000"/>
<rect x="216" y="588" width="4" height="2" fill="#000"/>
<rect x="218" y="594" width="2" height="2" fill="#f00"/>
<rect x="215" y="598" width="2" height="1" fill="#f00"/>
<rect x="270" y="603" width="9" height="12" fill="#000"/>
<rect x="272" y="601" width="4" height="2" fill="#000"/>
<rect x="273" y="607" width="2" height="2" fill="#f00"/>
<rect x="271" y="615" width="3" height="1" fill="#f00"/>
<line x1="232" y1="581.5" x2="270" y2="591" stroke="#f00" stroke-width="1.6" />
<line x1="238" y1="583.5" x2="262" y2="589.5" stroke="#000" stroke-width="3" />
<rect x="247" y="552" width="6" height="15" fill="#000"/>
<rect x="248" y="551" width="4" height="1" fill="#000"/>
<rect x="263" y="555" width="6" height="9" fill="#000"/>
<rect x="264" y="554" width="4" height="1" fill="#000"/>
<line x1="252" y1="556" x2="265" y2="559" stroke="#f00" stroke-width="1.6" />
<rect x="249" y="563" width="13" height="9" fill="#000"/>
<rect x="251" y="572" width="9" height="2" fill="#000"/>
<rect x="254" y="565" width="3" height="4" fill="#fff"/>
<rect x="258" y="568" width="2" height="2" fill="#fff"/>
<rect x="198" y="535" width="4" height="4" fill="#000"/>
<rect x="199" y="536" width="1" height="1" fill="#f00"/>
<rect x="284" y="535" width="4" height="4" fill="#000"/>
<rect x="285" y="536" width="1" height="1" fill="#f00"/>
<rect x="316" y="567" width="4" height="4" fill="#000"/>
<rect x="317" y="568" width="1" height="1" fill="#f00"/>
<rect x="315" y="653" width="4" height="4" fill="#000"/>
<rect x="316" y="654" width="1" height="1" fill="#f00"/>
<rect x="275" y="688" width="4" height="4" fill="#000"/>
<rect x="276" y="689" width="1" height="1" fill="#f00"/>
<rect x="168" y="654" width="4" height="4" fill="#000"/>
<rect x="169" y="655" width="1" height="1" fill="#f00"/>
<rect x="156" y="609" width="4" height="4" fill="#000"/>
<rect x="157" y="610" width="1" height="1" fill="#f00"/>
<rect x="167" y="567" width="4" height="4" fill="#000"/>
<rect x="168" y="568" width="1" height="1" fill="#f00"/>
<rect x="242" y="523" width="4" height="4" fill="#000"/>
<rect x="243" y="524" width="1" height="1" fill="#f00"/>
<rect x="242" y="695" width="4" height="4" fill="#000"/>
<rect x="243" y="696" width="1" height="1" fill="#f00"/>
<rect x="199" y="684" width="4" height="4" fill="#000"/>
<rect x="200" y="685" width="1" height="1" fill="#f00"/>
<rect x="288" y="634" width="3" height="2" fill="#f00"/>
<rect x="279" y="645" width="2" height="2" fill="#f00"/>
<rect x="229" y="656" width="3" height="3" fill="#000"/>
<g transform="translate(168.5 634) rotate(-32)"><rect x="0" y="0" width="20" height="32" fill="#000" stroke="#000" stroke-width="2"/><rect x="2" y="2" width="4" height="5" fill="#fff"/><rect x="8" y="2" width="4" height="5" fill="#fff"/><rect x="14" y="2" width="4" height="5" fill="#fff"/><rect x="3" y="4" width="2" height="2" fill="#f00"/><rect x="9" y="3" width="2" height="2" fill="#f00"/><rect x="15" y="4" width="2" height="2" fill="#f00"/><rect x="1" y="10" width="7" height="4" fill="#fff"/><rect x="11" y="10" width="7" height="3" fill="#fff"/><rect x="4" y="11" width="2" height="2" fill="#000"/><rect x="13" y="10" width="2" height="2" fill="#f00"/><rect x="2" y="17" width="16" height="12" fill="#fff"/><rect x="4" y="17" width="1.5" height="12" fill="#000"/><rect x="6.5" y="17" width="2" height="11" fill="#f00"/><rect x="10.5" y="17" width="2" height="11" fill="#f00"/><rect x="13.5" y="17" width="1.5" height="12" fill="#000"/><rect x="15" y="20" width="3" height="3" fill="#000"/><rect x="8" y="22" width="3" height="3" fill="#000"/><rect x="16" y="25" width="2" height="2" fill="#f00"/><rect x="-1" y="31" width="22" height="4" fill="#000"/></g>
<rect x="196" y="624" width="20" height="24" fill="#000"/>
<rect x="193" y="612" width="8" height="12" fill="#000"/>
<rect x="214" y="630" width="4" height="12" fill="#000"/>
<rect x="190" y="640" width="8" height="14" fill="#000"/>
<rect x="204" y="626" width="5" height="2" fill="#f00"/>
<rect x="206" y="630" width="3" height="6" fill="#f00"/>
<rect x="199" y="641" width="11" height="2" fill="#f00"/>
<rect x="196" y="634" width="3" height="2" fill="#f00"/>
<rect x="203" y="646" width="2" height="3" fill="#f00"/>
<rect x="195" y="615" width="3" height="3" fill="#f00"/>
<rect x="198" y="620" width="2" height="2" fill="#f00"/>
<rect x="200" y="629" width="2" height="4" fill="#fff"/>
<rect x="193" y="644" width="3" height="3" fill="#fff"/>
<rect x="197" y="652" width="4" height="3" fill="#fff"/>
<rect x="191" y="658" width="3" height="2" fill="#f00"/>
<line x1="213" y1="641" x2="218" y2="647" stroke="#f00" stroke-width="1.4" />
<path d="M210,644 L214,647 L211,648" stroke="#008000" stroke-width="1.5" fill="none" />
<rect x="332" y="583" width="4" height="58" fill="#000"/>
<rect x="332" y="583" width="64" height="2" fill="#000"/>
<rect x="332" y="638" width="64" height="3" fill="#000"/>
<circle cx="364.7" cy="610.7" r="19" stroke="#000" stroke-width="2" fill="none" />
<circle cx="364.7" cy="610.7" r="16.5" stroke="#f00" stroke-width="1.8" fill="none" />
<circle cx="364.7" cy="610.7" r="13" stroke="#000" stroke-width="3" fill="none" />
<circle cx="364.7" cy="610.7" r="10.5" stroke="#000" stroke-width="1.4" fill="none" stroke-dasharray="1.5 2"/>
<circle cx="364.7" cy="610.7" r="6" stroke="#000" stroke-width="2.5" fill="none" />
<circle cx="364.7" cy="610.7" r="2.5" stroke="#000" stroke-width="2" fill="#000" />
<path d="M383,605 L391.5,614 L382,619" stroke="#000" stroke-width="2" fill="none" />
<rect x="364" y="586" width="2" height="55" fill="#f00"/>
<rect x="163" y="520" width="2" height="36" fill="#f00"/>
<rect x="148" y="533" width="35" height="2" fill="#f00"/>
<rect x="148" y="547" width="7" height="2" fill="#f00"/>
<rect x="159" y="547" width="21" height="2" fill="#f00"/>
<rect x="178" y="520" width="2" height="17" fill="#f00"/>
<rect x="178" y="540" width="2" height="7" fill="#f00"/>
<rect x="163" y="672" width="2" height="33" fill="#f00"/>
<rect x="148" y="688" width="35" height="2" fill="#f00"/>
<rect x="148" y="673" width="7" height="2" fill="#f00"/>
<rect x="158" y="673" width="12" height="2" fill="#f00"/>
<rect x="173" y="673" width="8" height="2" fill="#f00"/>
<rect x="178" y="673" width="2" height="13" fill="#f00"/>
<rect x="178" y="691" width="2" height="14" fill="#f00"/>
<rect x="379" y="520" width="2" height="36" fill="#f00"/>
<rect x="361" y="533" width="34" height="2" fill="#f00"/>
<rect x="363" y="547" width="15" height="2" fill="#f00"/>
<rect x="382" y="547" width="3" height="2" fill="#f00"/>
<rect x="388" y="547" width="7" height="2" fill="#f00"/>
<rect x="362" y="520" width="2" height="11" fill="#f00"/>
<rect x="362" y="536" width="2" height="13" fill="#f00"/>
<rect x="379" y="669" width="2" height="36" fill="#f00"/>
<rect x="361" y="688" width="34" height="2" fill="#f00"/>
<rect x="363" y="673" width="15" height="2" fill="#f00"/>
<rect x="382" y="673" width="3" height="2" fill="#f00"/>
<rect x="388" y="673" width="7" height="2" fill="#f00"/>
<rect x="362" y="673" width="2" height="13" fill="#f00"/>
<rect x="362" y="691" width="2" height="14" fill="#f00"/>
<rect x="263" y="499" width="32" height="4" fill="#000"/>
<rect x="268" y="503" width="2" height="16" fill="#000"/>
<rect x="286" y="503" width="2" height="16" fill="#000"/>
<rect x="278" y="497" width="2" height="41" fill="#f00"/>
<path d="M275,481.5 L283,481.5 L293,486 L284.5,486 L284.5,495 L272.5,495 L272.5,486 L264,486 Z" stroke="#000" stroke-width="2" fill="none" />
<path d="M254,319 L264,319 L264,329 L273,329 L268,332 L262,334 L256,334 L250,332 L245,329 L254,329 Z" stroke="#000" stroke-width="2" fill="none" />
<rect x="245" y="329" width="9" height="2" fill="#000"/>
<rect x="264" y="329" width="9" height="2" fill="#000"/>
<text x="75" y="173" font-size="13.5" fill="#000" text-anchor="start" textLength="10" lengthAdjust="spacingAndGlyphs" transform="rotate(-90 75 173)" filter="url(#al)" font-weight="bold">H<tspan font-weight="normal" stroke="#000" stroke-width="0.3">0</tspan></text>
<text x="75" y="351" font-size="13.5" fill="#000" text-anchor="start" textLength="10" lengthAdjust="spacingAndGlyphs" transform="rotate(-90 75 351)" filter="url(#al)" font-weight="bold">H1</text>
<text x="108" y="361" font-size="13.5" fill="#000" text-anchor="start" textLength="10" lengthAdjust="spacingAndGlyphs" transform="rotate(-90 108 361)" filter="url(#al)" font-weight="bold">H2</text>
<text x="444" y="356" font-size="13.5" fill="#000" text-anchor="start" textLength="10" lengthAdjust="spacingAndGlyphs" transform="rotate(-90 444 356)" filter="url(#al)" font-weight="bold">H3</text>
<text x="478" y="326" font-size="13.5" fill="#000" text-anchor="start" textLength="10" lengthAdjust="spacingAndGlyphs" transform="rotate(-90 478 326)" filter="url(#al)" font-weight="bold">H4</text>
<text x="501" y="280" font-size="13.5" fill="#000" text-anchor="start" textLength="10" lengthAdjust="spacingAndGlyphs" transform="rotate(-90 501 280)" filter="url(#al)" font-weight="bold">H5</text>
<text x="70" y="616" font-size="13.5" fill="#000" text-anchor="start" textLength="10.5" lengthAdjust="spacingAndGlyphs" transform="rotate(-90 70 616)" filter="url(#al2)" stroke="#000" stroke-width="0.25">A1</text>
<text x="107" y="616" font-size="13.5" fill="#000" text-anchor="start" textLength="10.5" lengthAdjust="spacingAndGlyphs" transform="rotate(-90 107 616)" filter="url(#al2)" stroke="#000" stroke-width="0.25">A2</text>
<text x="453" y="616" font-size="13.5" fill="#000" text-anchor="start" textLength="10.5" lengthAdjust="spacingAndGlyphs" transform="rotate(-90 453 616)" filter="url(#al2)" stroke="#000" stroke-width="0.25">A3</text>
<text x="478" y="616" font-size="13.5" fill="#000" text-anchor="start" textLength="10.5" lengthAdjust="spacingAndGlyphs" transform="rotate(-90 478 616)" filter="url(#al2)" stroke="#000" stroke-width="0.25">A4</text>
<text x="267" y="466.5" font-size="13.5" fill="#000" text-anchor="start" textLength="9.5" lengthAdjust="spacingAndGlyphs" >B1</text>
<text x="267" y="734.5" font-size="13.5" fill="#000" text-anchor="start" textLength="9.5" lengthAdjust="spacingAndGlyphs" >B2</text>
<text x="161" y="760.5" font-size="13.5" fill="#000" text-anchor="start" textLength="9.5" lengthAdjust="spacingAndGlyphs" >B3</text>
<text x="161" y="786.5" font-size="13.5" fill="#000" text-anchor="start" textLength="9.5" lengthAdjust="spacingAndGlyphs" >B4</text>
<text x="341" y="119.5" font-size="11" fill="#000" text-anchor="start" textLength="18.5" lengthAdjust="spacingAndGlyphs" class="cj" filter="url(#al)">主机</text>
<text x="379" y="119.5" font-size="11" fill="#000" text-anchor="start" textLength="55" lengthAdjust="spacingAndGlyphs" class="cj" filter="url(#al)">机器安装平面</text>
<rect x="378" y="119" width="1" height="2" fill="#000"/>
<text class="vt" font-size="9" fill="#333"><tspan x="289" y="324.5" textLength="7" lengthAdjust="spacingAndGlyphs">滤</tspan><tspan x="289" y="337.3" textLength="7" lengthAdjust="spacingAndGlyphs">液</tspan><tspan x="289" y="350.1" textLength="7" lengthAdjust="spacingAndGlyphs">出</tspan><tspan x="289" y="362.9" textLength="7" lengthAdjust="spacingAndGlyphs">口</tspan></text>
<text class="vt" font-size="9" fill="#333"><tspan x="300" y="469.0" textLength="7" lengthAdjust="spacingAndGlyphs">滤</tspan><tspan x="300" y="482.2" textLength="7" lengthAdjust="spacingAndGlyphs">液</tspan><tspan x="300" y="495.4" textLength="7" lengthAdjust="spacingAndGlyphs">出</tspan><tspan x="300" y="508.6" textLength="7" lengthAdjust="spacingAndGlyphs">口</tspan></text>
</svg>
</body></html>
